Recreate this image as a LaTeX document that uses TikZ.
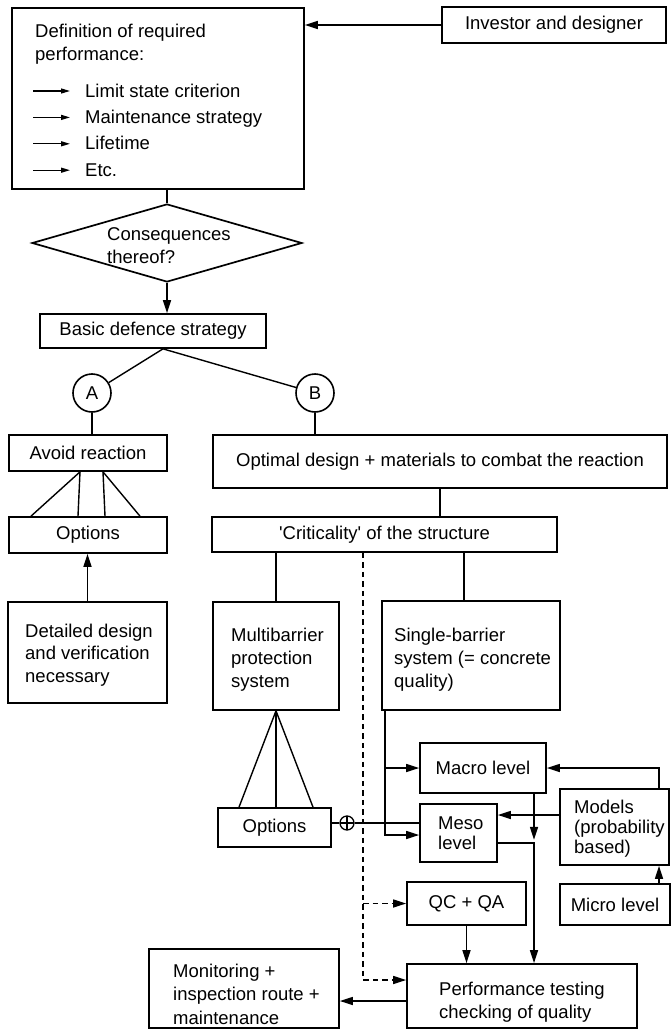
\documentclass[tikz,border=0pt]{standalone}
\usepackage{fontspec}
\setmainfont{Liberation Sans}
\usetikzlibrary{shapes.geometric,arrows.meta,calc}
\begin{document}
\begin{tikzpicture}[x=1pt,y=-1pt,
  every node/.style={font=\fontsize{18.5}{23}\selectfont},
  box/.style={draw, line width=1.7pt, inner sep=0pt, align=center},
  lbl/.style={anchor=base west, align=left, inner sep=0pt},
  conn/.style={line width=1.4pt},
  arr/.style={conn, -{Triangle[length=13pt,width=8pt]}},
  dsh/.style={arr, dash pattern=on 5.5pt off 4pt},
  circ/.style={draw, circle, line width=1.6pt, minimum size=38pt, inner sep=0pt},
  bullet/.style={line width=1.3pt, -{Triangle[length=9pt,width=5pt]}},
]
\useasboundingbox (0,0) rectangle (671,1030);

% ---------- boxes ----------
\node[box, minimum width=292, minimum height=181] (def) at (158,98.5) {};
\node[box, minimum width=224, minimum height=36] (inv) at (554,25) {Investor and designer};
\node[draw, diamond, line width=1.7pt, minimum width=270, minimum height=78, inner sep=0pt] (dia) at (167,243) {};
\node[box, minimum width=226, minimum height=34] (basic) at (153,331) {Basic defence strategy};
\node[circ] (A) at (92,393) {A};
\node[circ] (B) at (315,393) {B};
\node[box, minimum width=158, minimum height=36] (avoid) at (88,453) {Avoid reaction};
\node[box, minimum width=158, minimum height=36] (opt1) at (88,535) {Options};
\node[box, minimum width=159, minimum height=101] (det) at (87.5,652.5) {};
\node[box, minimum width=454, minimum height=53] (optimal) at (440,461.5) {Optimal design + materials to combat the reaction};
\node[box, minimum width=345, minimum height=35] (crit) at (384.5,534.5) {\textquotesingle Criticality\textquotesingle\ of the structure};
\node[box, minimum width=126, minimum height=108] (multi) at (276,656) {};
\node[box, minimum width=178, minimum height=109] (single) at (471,655.5) {};
\node[box, minimum width=113, minimum height=39] (opt2) at (274.5,827.5) {Options};
\node[draw, circle, line width=1.3pt, minimum size=14, inner sep=0pt,
      path picture={\draw[line width=1.1pt] (path picture bounding box.north) -- (path picture bounding box.south)
                     (path picture bounding box.west) -- (path picture bounding box.east);}] (op) at (347,823) {};
\node[box, minimum width=126, minimum height=50] (macro) at (483,768) {Macro level};
\node[box, minimum width=77, minimum height=58] (meso) at (458.5,833) {};
\node[box, minimum width=109, minimum height=76] (models) at (614.5,827) {};
\node[box, minimum width=110, minimum height=41] (micro) at (615,904.5) {Micro level};
\node[box, minimum width=119, minimum height=43] (qc) at (466.5,903.5) {QC + QA};
\node[box, minimum width=230, minimum height=64] (perf) at (522,996) {};
\node[box, minimum width=190, minimum height=79] (mon) at (244,988.5) {};

% ---------- texts (anchored at the baseline of their last line) ----------
\node[lbl] (tdef) at (35,61) {Definition of required\\performance:};
\node[lbl, font=\fontsize{18.5}{26.4}\selectfont] (tlist) at (85,176.2) {Limit state criterion\\Maintenance strategy\\Lifetime\\Etc.};
\foreach \yy in {91,117.4,143.8,170.2} \draw[bullet] (33,\yy) -- (70,\yy);
\node[lbl] (tdia) at (107,263) {Consequences\\thereof?};
\node[lbl, font=\fontsize{18.5}{22.5}\selectfont] (tdet) at (25,682) {Detailed design\\and verification\\necessary};
\node[lbl] (tmulti) at (231,687) {Multibarrier\\protection\\system};
\node[lbl] (tsingle) at (394,687) {Single-barrier\\system (= concrete\\quality)};
\node[lbl, font=\fontsize{18.5}{20}\selectfont] (tmeso) at (438,849) {Meso\\level};
\node[lbl, font=\fontsize{18.5}{20}\selectfont] (tmodels) at (574,853) {Models\\(probability\\based)};
\node[lbl] (tperf) at (439,1018) {Performance testing\\checking of quality};
\node[lbl, font=\fontsize{18.5}{23.5}\selectfont] (tmon) at (173,1024) {Monitoring +\\inspection route +\\maintenance};

% ---------- connectors ----------
\draw[arr] (inv.west) -- (inv.west -| def.east);
\draw[conn] (dia.north) -- (dia.north |- def.south);
\draw[arr] (dia.south) -- (dia.south |- basic.north);
\draw[conn] ([xshift=10pt]basic.south) -- (A);
\draw[conn] ([xshift=10pt]basic.south) -- (B);
\draw[conn] (A.south) -- (A.south |- avoid.north);
\draw[conn] ([xshift=-8pt]avoid.south) -- ([xshift=-57pt]opt1.north);
\draw[conn] ([xshift=-8pt]avoid.south) -- ([xshift=-10pt]opt1.north);
\draw[conn] ([xshift=15pt]avoid.south) -- ([xshift=17pt]opt1.north);
\draw[conn] ([xshift=15pt]avoid.south) -- ([xshift=52pt]opt1.north);
\draw[arr] (det.north) -- (det.north |- opt1.south);
\draw[conn] (B.south) -- (B.south |- optimal.north);
\draw[conn] (optimal.south) -- (optimal.south |- crit.north);
\draw[conn] (multi.north |- crit.south) -- (multi.north);
\draw[conn] ([xshift=-7pt]single.north |- crit.south) -- ([xshift=-7pt]single.north);
\coordinate (d) at ([xshift=-21.5pt]crit.south);
\draw[dsh] (d) |- ([yshift=16pt]perf.west);
\draw[dsh] (d |- qc.west) -- (qc.west);
\draw[conn] (multi.south) -- ([xshift=-35.5pt]opt2.north);
\draw[conn] (multi.south) -- ([xshift=1.5pt]opt2.north);
\draw[conn] (multi.south) -- ([xshift=38.5pt]opt2.north);
\draw[conn] (op) -- (op -| opt2.east);
\draw[conn] (op) -- (op -| meso.west);
\coordinate (s) at ([xshift=-86pt]single.south);
\draw[arr] (s) |- ([yshift=-2pt]meso.west);
\draw[arr] (s |- macro.west) -- (macro.west);
\draw[arr] ([yshift=12pt]models.west) -- ([yshift=12pt]models.west -| meso.east);
\draw[arr] ([xshift=44.5pt]models.north) |- (macro.east);
\draw[arr] ([xshift=44pt]micro.north) -- ([xshift=44pt]micro.north |- models.south);
\draw[arr] ([xshift=51pt]macro.south) -- ++(0,46);
\draw[arr] ([yshift=-10pt]meso.east) -| ([xshift=12pt]perf.north);
\draw[arr] (qc.south) -- (qc.south |- perf.north);
\draw[arr] ([yshift=-5pt]perf.west) -- ([yshift=-5pt]perf.west -| mon.east);
\end{tikzpicture}
\end{document}
